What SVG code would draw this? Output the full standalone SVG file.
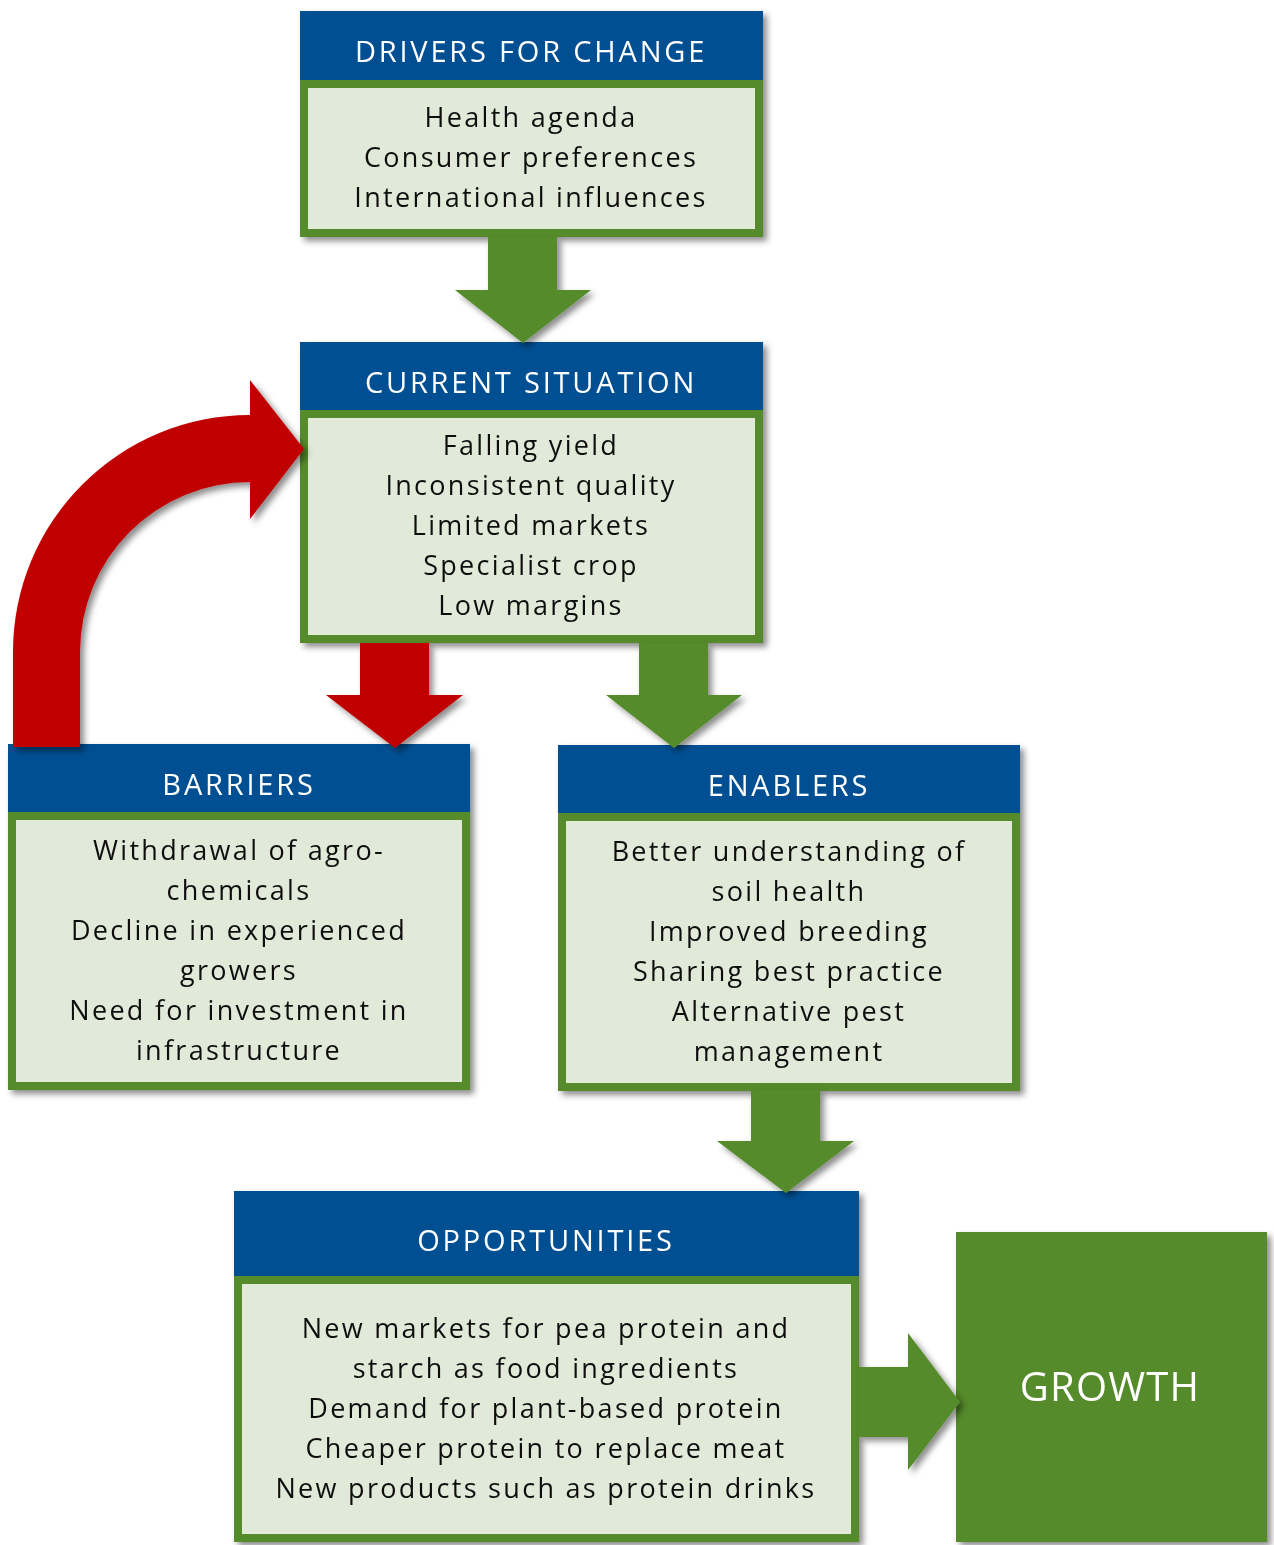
<svg xmlns="http://www.w3.org/2000/svg" width="1274" height="1545" viewBox="0 0 1274 1545">
<style>
  .hdr { fill: #004F92; }
  .body { fill: #E1EAD9; stroke: #548B2A; stroke-width: 8; }
  .htxt { font-family: "Open Sans", "Noto Sans", sans-serif; font-size: 29px; fill: #FFFFFF; text-anchor: middle; letter-spacing: 2.8px; }
  .btxt { font-family: "Open Sans", "Noto Sans", sans-serif; font-size: 27px; fill: #111111; text-anchor: middle; letter-spacing: 2.3px; }
  .gtxt { font-family: "Open Sans", "Noto Sans", sans-serif; font-size: 40px; fill: #FFFFFF; text-anchor: middle; letter-spacing: 1.2px; }
  .garrow { fill: #548B2A; }
  .rarrow { fill: #C00000; }
</style>
<defs>
  <filter id="sh" x="-10%" y="-10%" width="130%" height="130%">
    <feDropShadow dx="4" dy="4" stdDeviation="3" flood-color="#000000" flood-opacity="0.45"/>
  </filter>
</defs>
<rect width="1274" height="1545" fill="#FFFFFF"/>

<g id="drivers" filter="url(#sh)">
  <rect class="hdr" x="300" y="11" width="463" height="70"/>
  <rect class="body" x="304" y="84" width="455" height="149"/>
  <text class="htxt" x="531" y="62">DRIVERS FOR CHANGE</text>
  <text class="btxt" x="531" y="127">Health agenda</text>
  <text class="btxt" x="531" y="167">Consumer preferences</text>
  <text class="btxt" x="531" y="207">International influences</text>
</g>

<g id="current" filter="url(#sh)">
  <rect class="hdr" x="300" y="342" width="463" height="69"/>
  <rect class="body" x="304" y="414" width="455" height="225"/>
  <text class="htxt" x="531" y="393">CURRENT SITUATION</text>
  <text class="btxt" x="531" y="455">Falling yield</text>
  <text class="btxt" x="531" y="495">Inconsistent quality</text>
  <text class="btxt" x="531" y="535">Limited markets</text>
  <text class="btxt" x="531" y="575">Specialist crop</text>
  <text class="btxt" x="531" y="615">Low margins</text>
</g>

<g id="barriers" filter="url(#sh)">
  <rect class="hdr" x="8" y="744" width="462" height="69"/>
  <rect class="body" x="12" y="816" width="454" height="270"/>
  <text class="htxt" x="239" y="795">BARRIERS</text>
  <text class="btxt" x="239" y="860">Withdrawal of agro-</text>
  <text class="btxt" x="239" y="900">chemicals</text>
  <text class="btxt" x="239" y="940">Decline in experienced</text>
  <text class="btxt" x="239" y="980">growers</text>
  <text class="btxt" x="239" y="1020">Need for investment in</text>
  <text class="btxt" x="239" y="1060">infrastructure</text>
</g>

<g id="enablers" filter="url(#sh)">
  <rect class="hdr" x="558" y="745" width="462" height="69"/>
  <rect class="body" x="562" y="817" width="454" height="270"/>
  <text class="htxt" x="789" y="796">ENABLERS</text>
  <text class="btxt" x="789" y="861">Better understanding of</text>
  <text class="btxt" x="789" y="901">soil health</text>
  <text class="btxt" x="789" y="941">Improved breeding</text>
  <text class="btxt" x="789" y="981">Sharing best practice</text>
  <text class="btxt" x="789" y="1021">Alternative pest</text>
  <text class="btxt" x="789" y="1061">management</text>
</g>

<g id="opportunities" filter="url(#sh)">
  <rect class="hdr" x="234" y="1191" width="625" height="86"/>
  <rect class="body" x="238" y="1280" width="617" height="258"/>
  <text class="htxt" x="546" y="1251">OPPORTUNITIES</text>
  <text class="btxt" x="546" y="1338">New markets for pea protein and</text>
  <text class="btxt" x="546" y="1378">starch as food ingredients</text>
  <text class="btxt" x="546" y="1418">Demand for plant-based protein</text>
  <text class="btxt" x="546" y="1458">Cheaper protein to replace meat</text>
  <text class="btxt" x="546" y="1498">New products such as protein drinks</text>
</g>

<g id="growth" filter="url(#sh)">
  <rect x="956" y="1232" width="311" height="310" fill="#548B2A"/>
  <text class="gtxt" x="1110" y="1401">GROWTH</text>
</g>

<g id="connectors" filter="url(#sh)">
  <path class="garrow" d="M488,237 L557,237 L557,290 L591,290 L523,343 L455,290 L488,290 Z"/>
  <path class="rarrow" d="M360,643 L429,643 L429,695 L463,695 L395,748 L326,695 L360,695 Z"/>
  <path class="garrow" d="M639,643 L708,643 L708,695 L742,695 L674,748 L606,695 L639,695 Z"/>
  <path class="garrow" d="M751,1090 L820,1090 L820,1141 L854,1141 L786,1193 L717,1141 L751,1141 Z"/>
  <path class="garrow" d="M859,1367 L908,1367 L908,1333 L960,1402 L908,1470 L908,1437 L859,1437 Z"/>
  <path class="rarrow" d="M13,747 L13,652 A237,237 0 0 1 250,415 L250,380 L304,449 L250,519 L250,482 A170,170 0 0 0 80,652 L80,747 Z"/>
</g>
</svg>
